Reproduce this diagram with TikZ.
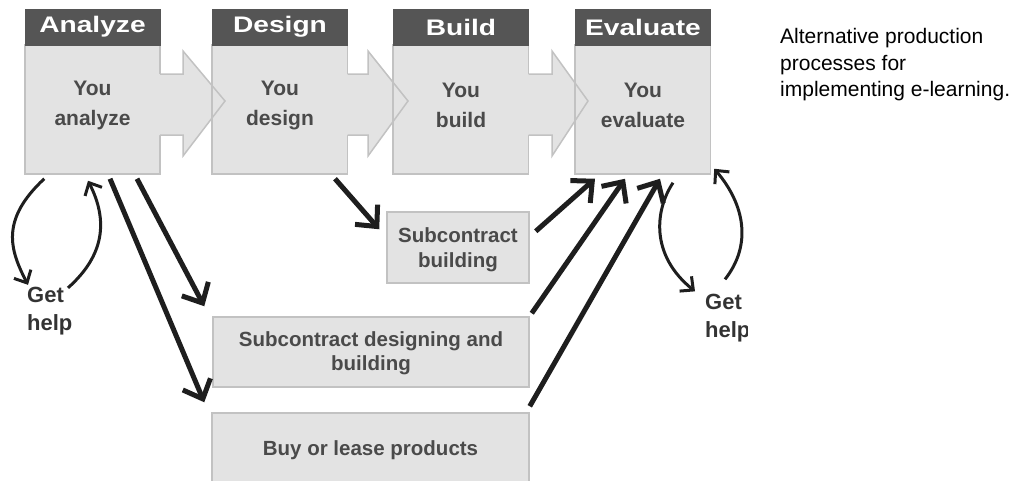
\documentclass[tikz,border=0pt]{standalone}
\usepackage{fontspec}
\setmainfont{Liberation Sans}
\usepackage{graphicx}
\usetikzlibrary{arrows.meta,calc}
\definecolor{boxfill}{HTML}{E3E3E3}
\definecolor{boxline}{HTML}{C2C2C2}
\definecolor{headfill}{HTML}{555555}
\definecolor{bodytext}{HTML}{4A4A4A}
\definecolor{arrowcol}{HTML}{1E1E1E}
\begin{document}
\begin{tikzpicture}[x=1pt,y=-1pt,
  body/.style={draw=boxline, fill=boxfill, line width=1.5pt, minimum width=135pt, minimum height=129pt, inner sep=0pt},
  head/.style={fill=headfill, draw=headfill, line width=0.5pt, minimum width=135pt, minimum height=36pt, inner sep=0pt, text=white, font=\fontsize{22.5}{26}\selectfont\bfseries},
  bodytxt/.style={align=center, inner sep=0pt, text=bodytext, font=\fontsize{21}{30}\selectfont\bfseries},
  lowbox/.style={draw=boxline, fill=boxfill, line width=1.5pt, inner sep=0pt},
  lowtxt/.style={align=center, inner sep=0pt, text=bodytext, font=\fontsize{20.5}{24.5}\selectfont\bfseries},
  helptxt/.style={align=left, inner sep=0pt, anchor=west, text=black!80, font=\fontsize{22}{28}\selectfont\bfseries},
  captxt/.style={inner sep=0pt, anchor=base west, font=\fontsize{21}{26}\selectfont},
  blockarrow/.style={fill=boxfill, draw=none},
  blockline/.style={draw=boxline, line width=1.5pt, line join=miter},
  bigarrow/.style={draw=arrowcol, line width=5pt, -{Straight Barb[length=16pt,width=30pt]}},
  curvearrow/.style={draw=arrowcol, line width=3pt, -{Straight Barb[length=10pt,width=19pt]}}
]
\useasboundingbox (0,0) rectangle (1014,480);

% main process boxes
\node[body] (an) at (92.5,109.5) {};
\node[body] (des) at (280,109.5) {};
\node[body] (bui) at (461,109.5) {};
\node[body] (eva) at (643,109.5) {};

% block arrows between boxes
\fill[blockarrow] (159,74) -- (183,74) -- (183,51) -- (225,101) -- (183,156) -- (183,135) -- (159,135) -- cycle;
\draw[blockline] (160,74) -- (183,74) -- (183,51) -- (225,101) -- (183,156) -- (183,135) -- (160,135);
\fill[blockarrow] (346,74) -- (368,74) -- (368,51) -- (408,101) -- (368,156) -- (368,135) -- (346,135) -- cycle;
\draw[blockline] (347.5,74) -- (368,74) -- (368,51) -- (408,101) -- (368,156) -- (368,135) -- (347.5,135);
\fill[blockarrow] (527,74) -- (552,74) -- (552,51) -- (588,101) -- (552,156) -- (552,135) -- (527,135) -- cycle;
\draw[blockline] (528.5,74) -- (552,74) -- (552,51) -- (588,101) -- (552,156) -- (552,135) -- (528.5,135);
\draw[blockline] (des.north west) -- (des.south west);
\draw[blockline] (bui.north west) -- (bui.south west);
\draw[blockline] (eva.north west) -- (eva.south west);

% headers
\node[head] (anh) at (92.5,27) {\scalebox{1.25}[1]{Analyze}};
\node[head] (desh) at (280,27) {\scalebox{1.25}[1]{Design}};
\node[head] (buih) at (461,27) {\scalebox{1.25}[1]{Build}};
\node[head] (evah) at (643,27) {\scalebox{1.25}[1]{Evaluate}};

% body texts
\node[bodytxt] (ant) at (92.5,105) {You\\analyze};
\node[bodytxt] (dest) at (280,105) {You\\design};
\node[bodytxt] (buit) at (461,105) {You\\build};
\node[bodytxt] (evat) at (643,105) {You\\evaluate};

% lower boxes
\node[lowbox, minimum width=142pt, minimum height=71pt] (sb) at (458,247.5) {};
\node[lowtxt] (sbt) at (458,249.5) {Subcontract\\building};
\node[lowbox, minimum width=316pt, minimum height=70pt] (sdb) at (371,352) {};
\node[lowtxt] (sdbt) at (371,353) {Subcontract designing and\\building};
\node[lowbox, minimum width=317pt, minimum height=74pt] (blp) at (370.5,450) {};
\node[lowtxt] (blpt) at (370.5,450) {Buy or lease products};

% thick arrows
\draw[bigarrow] ($(des.south)+(55,4)$) -- ($(sb.north west)+(-7,18)$);
\draw[bigarrow] ($(an.south)+(44.5,4)$) -- ($(sdb.north west)+(-8,-10)$);
\draw[bigarrow] ($(an.south)+(17.5,4)$) -- ($(blp.north west)+(-7,-10)$);
\draw[bigarrow] ($(sb.north east)+(6,20)$) -- ($(eva.south)+(-48,4)$);
\draw[bigarrow] ($(sdb.north east)+(2,-3)$) -- ($(eva.south)+(-18,4)$);
\draw[bigarrow] ($(blp.north east)+(0,-6)$) -- ($(eva.south)+(17,4)$);

% get help (left)
\node[helptxt] (gh1) at (27,311) {Get\\help};
\draw[curvearrow] ($(an.south west)+(20,4)$) .. controls (0,220) and (10,250) .. ($(gh1.north west)+(1,-2)$);
\draw[curvearrow] ($(gh1.north west)+(41,1)$) .. controls (105,255) and (108,220) .. ($(an.south)+(-4.5,6)$);

% get help (right)
\begin{scope}
\clip (0,0) rectangle (747,480);
\node[helptxt] (gh2) at (705,318.5) {Get\\help};
\end{scope}
\draw[curvearrow] ($(eva.south)+(30,8)$) .. controls (655,210) and (650,255) .. ($(gh2.north west)+(-10,-3)$);
\draw[curvearrow] ($(gh2.north west)+(20,-15)$) .. controls (752,245) and (745,205) .. ($(eva.south east)+(3,-6)$);

% caption
\node[captxt] (cap1) at (780,43) {Alternative production};
\node[captxt] (cap2) at (780,70) {processes for};
\node[captxt] (cap3) at (780,96.7) {implementing e-learning.};
\end{tikzpicture}
\end{document}
